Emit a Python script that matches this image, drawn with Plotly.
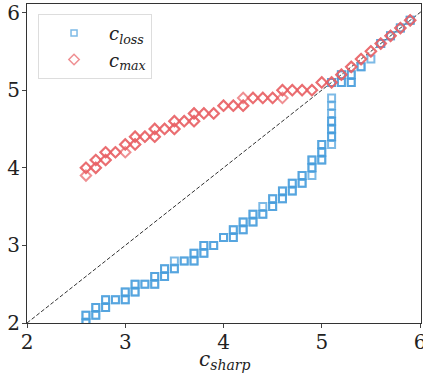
import plotly.graph_objects as go

# c_loss points: (c_sharp, value, multiplicity)
loss_x = [2.6,2.6,2.7,2.7,2.8,2.8,2.9,3.0,3.0,3.1,3.1,3.2,3.3,3.3,3.4,3.4,3.5,3.5,3.6,3.7,3.7,3.8,3.8,3.9,
          4.0,4.1,4.1,4.2,4.2,4.3,4.3,4.4,4.4,4.5,4.5,4.6,4.6,4.7,4.7,4.8,4.8,4.9,4.9,4.9,
          5.0,5.0,5.0,5.1,5.1,5.1,5.1,5.1,5.1,5.1,5.1,5.2,5.2,5.3,5.3,5.4,5.5,5.6,5.7,5.8,5.9]
loss_y = [2.1,2.0,2.2,2.1,2.3,2.2,2.3,2.4,2.3,2.5,2.4,2.5,2.6,2.5,2.7,2.6,2.8,2.7,2.8,2.9,2.8,3.0,2.9,3.0,
          3.1,3.2,3.1,3.3,3.2,3.4,3.3,3.5,3.4,3.6,3.5,3.7,3.6,3.8,3.7,3.9,3.8,4.1,4.0,3.9,
          4.3,4.2,4.1,4.9,4.8,4.7,4.6,4.5,4.4,4.3,5.1,5.2,5.1,5.2,5.1,5.3,5.4,5.6,5.7,5.8,5.9]
loss_n = [2,2,2,2,2,2,2,2,2,2,2,2,2,2,2,2,1,2,2,2,2,2,2,2,
          2,2,2,2,2,2,2,1,2,2,2,2,2,2,2,2,2,2,2,1,
          2,2,2,1,1,1,2,2,2,1,2,2,2,2,2,2,1,2,2,2,2]

# c_max points
max_x = [2.6,2.6,2.7,2.7,2.8,2.8,2.9,3.0,3.0,3.1,3.1,3.2,3.3,3.3,3.4,3.5,3.5,3.6,3.7,3.7,3.8,3.9,
         4.0,4.1,4.2,4.2,4.3,4.4,4.5,4.6,4.6,4.7,4.8,4.9,5.0,5.1,5.2,5.3,5.4,5.5,5.6,5.7,5.8,5.9]
max_y = [4.0,3.9,4.1,4.0,4.2,4.1,4.2,4.3,4.2,4.4,4.3,4.4,4.5,4.4,4.5,4.6,4.5,4.6,4.7,4.6,4.7,4.7,
         4.8,4.8,4.9,4.8,4.9,4.9,4.9,5.0,4.9,5.0,5.0,5.0,5.1,5.1,5.2,5.3,5.4,5.5,5.6,5.7,5.8,5.9]
max_n = [2,1,2,2,2,2,2,2,1,2,2,2,2,2,2,2,2,2,2,2,2,2,
         2,2,1,2,2,2,2,2,1,2,2,2,2,2,2,2,2,2,2,2,2,2]

diag = [2, 6.2]
x_ticks = [2, 3, 4, 5, 6]
y_ticks = [2, 3, 4, 5, 6]
x_title = "<i>c</i><sub><i>sharp</i></sub>"

def expand(xs, ys, ns):
    ox, oy = [], []
    for a, b, n in zip(xs, ys, ns):
        for _ in range(n):
            ox.append(a); oy.append(b)
    return ox, oy

BLUE = "rgba(70,156,220,0.7)"
RED = "rgba(232,96,100,0.7)"
SERIF = "DejaVu Serif"
LOSS_NAME = "<i>c</i><sub><i>loss</i></sub>"
MAX_NAME = "<i>c</i><sub><i>max</i></sub>"

fig = go.Figure()
fig.add_trace(go.Scatter(x=diag, y=diag, mode="lines", showlegend=False,
                         line=dict(color="#333", width=1, dash="4px,2px")))
lx, ly = expand(loss_x, loss_y, loss_n)
fig.add_trace(go.Scatter(x=lx, y=ly, mode="markers", name=LOSS_NAME, showlegend=False,
                         marker=dict(symbol="square-open", size=7, color=BLUE, line=dict(width=2, color=BLUE))))
mx, my = expand(max_x, max_y, max_n)
fig.add_trace(go.Scatter(x=mx, y=my, mode="markers", name=MAX_NAME, showlegend=False,
                         marker=dict(symbol="diamond-open", size=8, color=RED, line=dict(width=2, color=RED))))
# legend entries (smaller symbols as in the reference legend)
fig.add_trace(go.Scatter(x=[None], y=[None], mode="markers", name=LOSS_NAME,
                         marker=dict(symbol="square-open", size=6, color=BLUE, line=dict(width=1.5, color=BLUE))))
fig.add_trace(go.Scatter(x=[None], y=[None], mode="markers", name=MAX_NAME,
                         marker=dict(symbol="diamond-open", size=8, color=RED, line=dict(width=1.5, color=RED))))

fig.add_annotation(text=x_title, xref="paper", yref="paper", x=0.5, y=0,
                   xanchor="center", yanchor="top", yshift=-22, showarrow=False,
                   font=dict(family=SERIF, size=20, color="#222"))

fig.update_layout(
    width=423, height=376,
    margin=dict(l=27, r=2, t=4, b=53, autoexpand=False),
    plot_bgcolor="white", paper_bgcolor="white",
    font=dict(family=SERIF, size=20, color="#222"),
    showlegend=True,
    legend=dict(x=0.028, y=0.969, xanchor="left", yanchor="top",
                bgcolor="white", bordercolor="#ddd", borderwidth=1, itemwidth=60,
                font=dict(family=SERIF, size=18), tracegroupgap=0),
    xaxis=dict(range=[2, 6.01], tickvals=x_ticks, ticks="outside", ticklen=4, tickwidth=1,
               automargin=False, ticklabelstandoff=-3,
               showgrid=False, zeroline=False, showline=True, linecolor="#333", linewidth=1.2, mirror=True,
               tickfont=dict(family=SERIF, size=20), ticklabeloverflow="allow"),
    yaxis=dict(range=[2, 6.11], tickvals=y_ticks, ticks="outside", ticklen=4, tickwidth=1,
               automargin=False, ticklabelstandoff=-2,
               showgrid=False, zeroline=False, showline=True, linecolor="#333", linewidth=1.2, mirror=True,
               tickfont=dict(family=SERIF, size=20), ticklabeloverflow="allow"),
)
fig.write_html("out.html")
